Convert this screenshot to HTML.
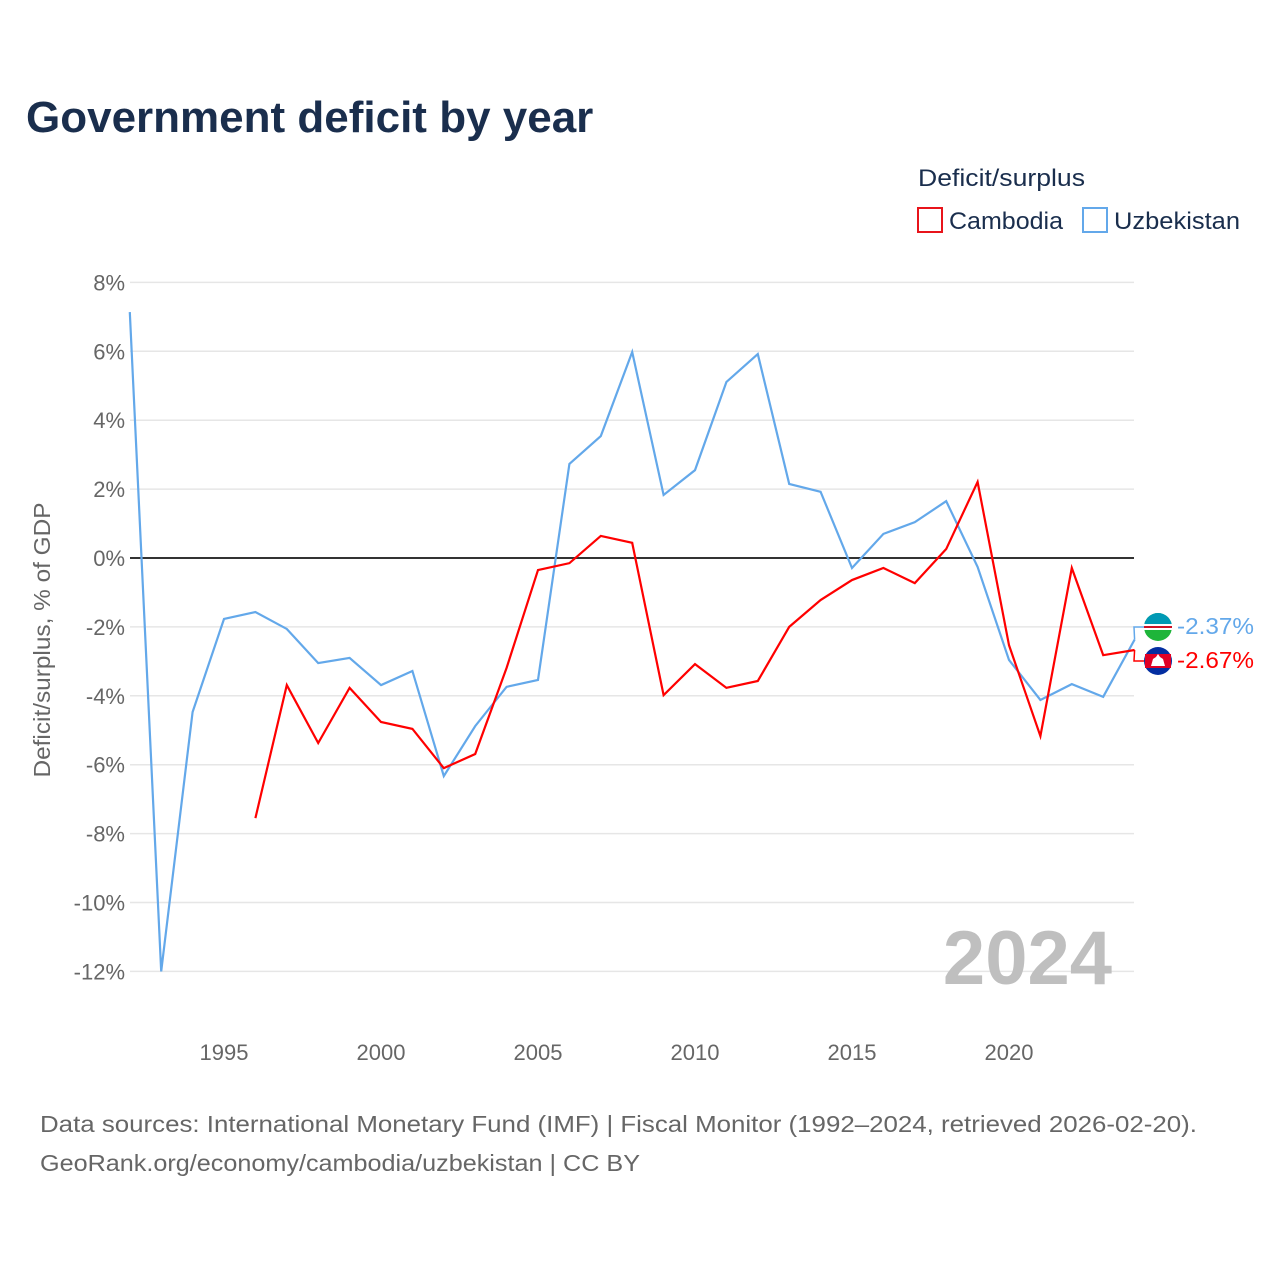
<!DOCTYPE html>
<html><head><meta charset="utf-8">
<style>
body{margin:0;background:#fff;font-family:"Liberation Sans",sans-serif;}
#wrap{position:relative;width:1280px;height:1280px;overflow:hidden;}
</style></head>
<body>
<div id="wrap">
<svg id="chart" width="1280" height="1280"></svg>
</div>
<script>
const years=[];for(let y=1992;y<=2024;y++)years.push(y);
const uzbekistan=[7.14,-12.0,-4.47,-1.77,-1.57,-2.06,-3.05,-2.9,-3.69,-3.28,-6.33,-4.88,-3.74,-3.54,2.73,3.54,5.98,1.83,2.55,5.11,5.92,2.15,1.92,-0.29,0.70,1.04,1.65,-0.26,-2.96,-4.12,-3.66,-4.03,-2.37];
const cambodiaYears=[1996,1997,1998,1999,2000,2001,2002,2003,2004,2005,2006,2007,2008,2009,2010,2011,2012,2013,2014,2015,2016,2017,2018,2019,2020,2021,2022,2023,2024];
const cambodia=[-7.55,-3.69,-5.37,-3.77,-4.76,-4.96,-6.1,-5.69,-3.19,-0.35,-0.15,0.64,0.44,-3.98,-3.08,-3.77,-3.57,-2.0,-1.22,-0.64,-0.29,-0.73,0.26,2.21,-2.53,-5.17,-0.29,-2.82,-2.67];
const yTicks=[8,6,4,2,0,-2,-4,-6,-8,-10,-12];
const xTicks=[1995,2000,2005,2010,2015,2020];

const NS="http://www.w3.org/2000/svg";
const svg=document.getElementById('chart');
const X=y=>129.8+(y-1992)*31.4;
const Y=v=>558-v*34.45;
function el(tag,attrs,name,inter){const e=document.createElementNS(NS,tag);for(const k in attrs)e.setAttribute(k,attrs[k]);


svg.appendChild(e);return e;}
function txt(s,attrs,name){const e=el('text',attrs,name,false);e.textContent=s;return e;}

txt('Government deficit by year',{x:26,y:132,'font-size':44,'font-weight':'bold',fill:'#1a2e4d'},'chart-title');
txt('Deficit/surplus',{x:918,y:186,'font-size':24,fill:'#1a2e4d',textLength:167,lengthAdjust:'spacingAndGlyphs'},'legend-title');
el('rect',{x:918,y:208,width:24,height:24,fill:'none',stroke:'#e8141b','stroke-width':2},'legend-swatch-cambodia',true);
txt('Cambodia',{x:949,y:229,'font-size':24,fill:'#1a2e4d',textLength:114,lengthAdjust:'spacingAndGlyphs'},'legend-entry-cambodia');
el('rect',{x:1083,y:208,width:24,height:24,fill:'none',stroke:'#63a8ea','stroke-width':2},'legend-swatch-uzbekistan',true);
txt('Uzbekistan',{x:1114,y:229,'font-size':24,fill:'#1a2e4d',textLength:126,lengthAdjust:'spacingAndGlyphs'},'legend-entry-uzbekistan');

yTicks.forEach(t=>{
 el('line',{x1:130,x2:1134,y1:Y(t),y2:Y(t),stroke:t===0?'#333':'#e6e6e6','stroke-width':t===0?2:1.5},'gridline-'+t,false);
 txt(t+'%',{x:125,y:Y(t)+8,'font-size':22,fill:'#666','text-anchor':'end'},'y-tick-'+t);
});
xTicks.forEach(t=>txt(String(t),{x:X(t),y:1060,'font-size':22,fill:'#666','text-anchor':'middle'},'x-tick-'+t));
txt('Deficit/surplus, % of GDP',{x:50,y:640,'font-size':23,fill:'#666','text-anchor':'middle',transform:'rotate(-90 50 640)',textLength:275,lengthAdjust:'spacingAndGlyphs'},'y-axis-title');
txt('2024',{x:1112,y:984,'font-size':76,'font-weight':'bold',fill:'#bfbfbf','text-anchor':'end'},'year-watermark');

el('polyline',{points:years.map((y,i)=>X(y)+','+Y(uzbekistan[i])).join(' '),fill:'none',stroke:'#63a8ea','stroke-width':2.2},'line-uzbekistan',true);
el('polyline',{points:cambodiaYears.map((y,i)=>X(y)+','+Y(cambodia[i])).join(' '),fill:'none',stroke:'#f00','stroke-width':2.2},'line-cambodia',true);

const uEnd=uzbekistan[uzbekistan.length-1], cEnd=cambodia[cambodia.length-1];
el('polyline',{points:`${X(2024)},${Y(uEnd)} 1134,627 1146,627`,fill:'none',stroke:'#63a8ea','stroke-width':1.5},'connector-uzbekistan',false);
el('polyline',{points:`${X(2024)},${Y(cEnd)} 1134,661 1146,661`,fill:'none',stroke:'#f00','stroke-width':1.5},'connector-cambodia',false);
el('circle',{cx:1158,cy:627,r:14,fill:'#1eb53a'},'flag-uzbekistan',false);
el('path',{d:'M1144,627 A14,14 0 0 1 1172,627 Z',fill:'#0099b5'},'flag-uzbekistan-top',false);
el('rect',{x:1144,y:624,width:28,height:6,fill:'#fff'},'flag-uzbekistan-band',false);
el('rect',{x:1144,y:626,width:28,height:2,fill:'#ce1126'},'flag-uzbekistan-stripe',false);
el('circle',{cx:1158,cy:661,r:14,fill:'#032ea1'},'flag-cambodia',false);
el('rect',{x:1145,y:654,width:26,height:14,fill:'#e00025'},'flag-cambodia-band',false);
el('path',{d:'M1151,666 L1153,659 L1156,657 L1158,654 L1160,657 L1163,659 L1165,666 Z',fill:'#fff'},'flag-cambodia-temple',false);
txt(uEnd.toFixed(2)+'%',{x:1177,y:634,'font-size':23,fill:'#63a8ea',textLength:77,lengthAdjust:'spacingAndGlyphs'},'end-label-uzbekistan');
txt(cEnd.toFixed(2)+'%',{x:1177,y:668,'font-size':23,fill:'#f00',textLength:77,lengthAdjust:'spacingAndGlyphs'},'end-label-cambodia');

txt('Data sources: International Monetary Fund (IMF) | Fiscal Monitor (1992–2024, retrieved 2026-02-20).',{x:40,y:1132,'font-size':23,fill:'#666',textLength:1157,lengthAdjust:'spacingAndGlyphs'},'source-note');
txt('GeoRank.org/economy/cambodia/uzbekistan | CC BY',{x:40,y:1171,'font-size':23,fill:'#666',textLength:600,lengthAdjust:'spacingAndGlyphs'},'source-link');
</script>
</body></html>
